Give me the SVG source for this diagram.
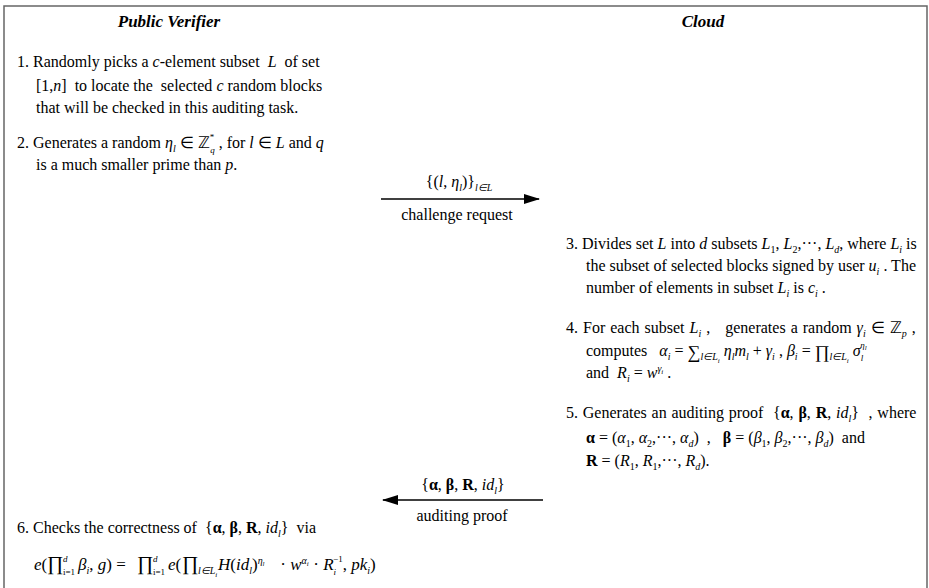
<svg xmlns="http://www.w3.org/2000/svg" width="929" height="588" viewBox="0 0 929 588">
<style>
.t{font-family:"Liberation Serif","Times New Roman",serif;font-size:16px;fill:#000}
.f{font-family:"Liberation Serif","Times New Roman",serif;font-size:17px;fill:#000}
.i{font-style:italic}
.b{font-weight:bold}
.h{font-family:"Liberation Serif","Times New Roman",serif;font-size:17px;font-weight:bold;font-style:italic;fill:#000}
.sb{font-size:10px;baseline-shift:-4px}
.sp{font-size:10px;baseline-shift:6px}
.lo{font-size:9px;baseline-shift:-5px}
.hi{font-size:9px;baseline-shift:8px}
.tiny{font-size:7px;baseline-shift:-7px}
.tsup{font-size:7px;baseline-shift:4px}
.big{font-size:20px}
.mid{font-size:18px;baseline-shift:-2px}
.ln{stroke:#000;stroke-width:1.5;fill:none}
</style>
<defs>
<marker id="ah" markerWidth="16" markerHeight="10" refX="15" refY="5" orient="auto" markerUnits="userSpaceOnUse">
<path d="M0,0 L16,5 L0,10 Z" fill="#000"/>
</marker>
</defs>
<rect width="929" height="588" fill="#fff"/>
<path d="M4,600 V6 H927 V600" fill="none" stroke="#666" stroke-width="1.5"/>

<g id="verifier">
<text class="h" x="169" y="27" text-anchor="middle">Public Verifier</text>
<text class="t" x="17" y="67" xml:space="preserve">1. Randomly picks a <tspan class="i">c</tspan>-element subset  <tspan class="i">L</tspan>  of set</text>
<text class="t" x="36" y="91" xml:space="preserve">[1,<tspan class="i">n</tspan>]  to locate the  selected <tspan class="i">c</tspan> random blocks</text>
<text class="t" x="36" y="113">that will be checked in this auditing task.</text>
<text class="t" x="17" y="148">2. Generates a random <tspan class="i">η</tspan><tspan class="sb i">l</tspan> ∈ ℤ<tspan class="hi">*</tspan><tspan class="lo i" dx="-4">q</tspan> , for <tspan class="i">l</tspan> ∈ <tspan class="i">L</tspan> and <tspan class="i">q</tspan></text>
<text class="t" x="36" y="170">is a much smaller prime than <tspan class="i">p</tspan>.</text>
</g>

<g id="cloud">
<text class="h" x="703" y="27" text-anchor="middle">Cloud</text>
<text class="t" x="566" y="249">3. Divides set <tspan class="i">L</tspan> into <tspan class="i">d</tspan> subsets <tspan class="i">L</tspan><tspan class="sb">1</tspan>, <tspan class="i">L</tspan><tspan class="sb">2</tspan>,···, <tspan class="i">L</tspan><tspan class="sb i">d</tspan>, where <tspan class="i">L</tspan><tspan class="sb i">i</tspan> is</text>
<text class="t" x="586" y="271">the subset of selected blocks signed by user <tspan class="i">u</tspan><tspan class="sb i">i</tspan> . The</text>
<text class="t" x="586" y="293">number of elements in subset <tspan class="i">L</tspan><tspan class="sb i">i</tspan> is <tspan class="i">c</tspan><tspan class="sb i">i</tspan> .</text>

<text class="t" x="566" y="333" xml:space="preserve" style="word-spacing:1px">4. For each subset <tspan class="i">L</tspan><tspan class="sb i">i</tspan> ,   generates a random <tspan class="i">γ</tspan><tspan class="sb i">i</tspan> ∈ ℤ<tspan class="sb i">p</tspan> ,</text>
<text class="t" x="586" y="356" xml:space="preserve">computes   <tspan class="i">α</tspan><tspan class="sb i">i</tspan> = <tspan class="mid">∑</tspan><tspan class="sb i">l∈L</tspan><tspan class="i tiny">i</tspan> <tspan class="i">η</tspan><tspan class="sb i">l</tspan><tspan class="i">m</tspan><tspan class="sb i">l</tspan> + <tspan class="i">γ</tspan><tspan class="sb i">i</tspan> , <tspan class="i">β</tspan><tspan class="sb i">i</tspan> = <tspan class="mid">∏</tspan><tspan class="sb i">l∈L</tspan><tspan class="i tiny">i</tspan> <tspan class="i">σ</tspan><tspan class="lo i">l</tspan><tspan class="hi i" dx="-3">η</tspan><tspan class="i tsup" style="baseline-shift:6px">l</tspan></text>
<text class="t" x="586" y="378" xml:space="preserve">and  <tspan class="i">R</tspan><tspan class="sb i">i</tspan> = <tspan class="i">w</tspan><tspan class="sp i">γ</tspan><tspan class="i tsup">i</tspan> .</text>

<text class="t" x="566" y="418" xml:space="preserve" style="word-spacing:0.8px">5. Generates an auditing proof  {<tspan class="b">α</tspan>, <tspan class="b">β</tspan>, <tspan class="b">R</tspan>, <tspan class="i">id</tspan><tspan class="sb i">l</tspan>}  , where</text>
<text class="t" x="586" y="443" xml:space="preserve"><tspan class="b">α</tspan> = (<tspan class="i">α</tspan><tspan class="sb">1</tspan>, <tspan class="i">α</tspan><tspan class="sb">2</tspan>,···, <tspan class="i">α</tspan><tspan class="sb i">d</tspan>)  ,   <tspan class="b">β</tspan> = (<tspan class="i">β</tspan><tspan class="sb">1</tspan>, <tspan class="i">β</tspan><tspan class="sb">2</tspan>,···, <tspan class="i">β</tspan><tspan class="sb i">d</tspan>)  and</text>
<text class="t" x="586" y="466"><tspan class="b">R</tspan> = (<tspan class="i">R</tspan><tspan class="sb">1</tspan>, <tspan class="i">R</tspan><tspan class="sb">1</tspan>,···, <tspan class="i">R</tspan><tspan class="sb i">d</tspan>).</text>
</g>

<g id="check">
<text class="t" x="17" y="533" xml:space="preserve">6. Checks the correctness of  {<tspan class="b">α</tspan>, <tspan class="b">β</tspan>, <tspan class="b">R</tspan>, <tspan class="i">id</tspan><tspan class="sb i">l</tspan>}  via</text>
<text class="f" y="570" xml:space="preserve"><tspan x="34" class="i">e</tspan>(<tspan x="47" class="big">∏</tspan><tspan x="63" class="hi i">d</tspan><tspan x="63" class="lo">i=1</tspan><tspan x="78" class="i">β</tspan><tspan class="sb i">i</tspan>, <tspan class="i">g</tspan>) = <tspan x="137" class="big">∏</tspan><tspan x="153" class="hi i">d</tspan><tspan x="153" class="lo">i=1</tspan><tspan x="168" class="i">e</tspan>(<tspan x="182" class="big">∏</tspan><tspan x="198" class="sb i">l∈L</tspan><tspan class="i tiny">i</tspan><tspan x="218" class="i">H</tspan>(<tspan class="i">id</tspan><tspan class="sb i">l</tspan>)<tspan class="sp i">η</tspan><tspan class="i tsup">l</tspan><tspan x="276"> · </tspan><tspan class="i">w</tspan><tspan class="sp i">α</tspan><tspan class="i tsup">i</tspan><tspan x="309"> · </tspan><tspan class="i">R</tspan><tspan class="lo i">i</tspan><tspan class="hi" dx="-3">−1</tspan>, <tspan class="i">pk</tspan><tspan class="sb i">i</tspan>)</text>
</g>

<g id="connectors">
<line class="ln" x1="381" y1="199" x2="539" y2="199" marker-end="url(#ah)"/>
<text class="t" x="459" y="187" text-anchor="middle">{(<tspan class="i">l</tspan>, <tspan class="i">η</tspan><tspan class="sb i">l</tspan>)}<tspan class="sb i">l∈L</tspan></text>
<text class="t" x="457" y="220" text-anchor="middle">challenge request</text>
<line class="ln" x1="543" y1="500" x2="383" y2="500" marker-end="url(#ah)"/>
<text class="t" x="463" y="490" text-anchor="middle">{<tspan class="b">α</tspan>, <tspan class="b">β</tspan>, <tspan class="b">R</tspan>, <tspan class="i">id</tspan><tspan class="sb i">l</tspan>}</text>
<text class="t" x="462" y="521" text-anchor="middle">auditing proof</text>
</g>
</svg>
